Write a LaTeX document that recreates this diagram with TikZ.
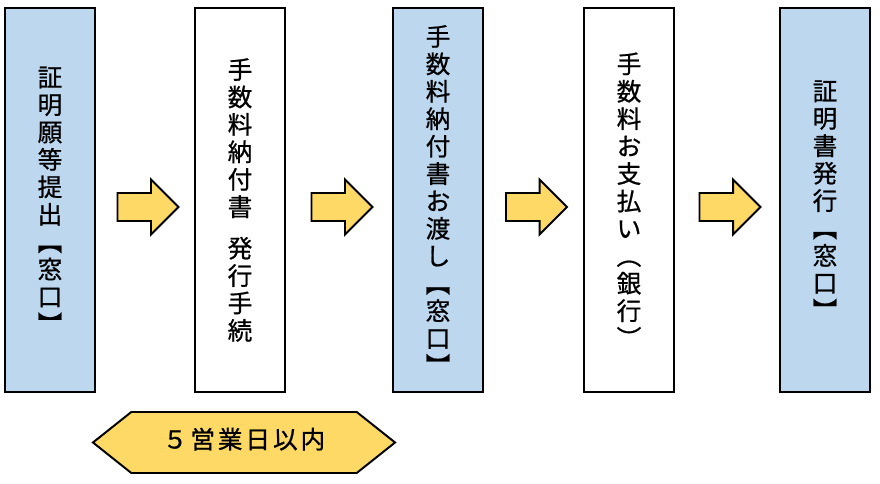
\documentclass[tikz,border=0pt]{standalone}
\usepackage{fontspec}
\usepackage{xcolor}
\usetikzlibrary{positioning,calc,shapes.arrows}
\newfontfamily\jpfont[FakeBold=0.8]{Noto Sans CJK JP}
\definecolor{madoblue}{HTML}{BDD7EE}
\definecolor{flowgold}{HTML}{FFD966}

\begin{document}
\begin{tikzpicture}[
    x=0.025cm, y=-0.025cm,
    stagebox/.style={
        rectangle, draw=black, line width=1.6pt,
        fill=white, minimum width=2.25cm, minimum height=9.6cm,
        align=center, inner sep=0pt,
        font=\jpfont\fontsize{17.5pt}{19.5pt}\selectfont
    },
    % Counter (madoguchi) steps: shaded blue
    counter/.style={
        stagebox, fill=madoblue
    },
    % Block arrow between two stages
    flowarrow/.style={
        single arrow, draw=black, line width=1.4pt, fill=flowgold,
        minimum height=1.525cm, inner xsep=0pt, inner ysep=0.325cm,
        text height=0pt, text depth=0pt,
        single arrow head extend=0.3375cm, single arrow tip angle=90,
        anchor=tail
    },
    spanarrow/.style={
        double arrow, draw=black, line width=1.4pt, fill=flowgold,
        minimum height=7.55cm, inner xsep=0pt, inner ysep=0.4375cm,
        text height=0.45cm, text depth=0.15cm,
        double arrow head extend=0pt, double arrow tip angle=77,
        font=\jpfont\fontsize{17.5pt}{19.5pt}\selectfont\addfontfeature{LetterSpace=12}
    }
]
\useasboundingbox (0,0) rectangle (880,484);

% === Nodes ===
\node[counter]  (SUB)  at (50,200)  {証\\明\\願\\等\\提\\出\\︻\\窓\\口\\︼};
\node[stagebox] (FEE)  at (240,200) {手\\数\\料\\納\\付\\書\\[10pt]発\\行\\手\\続};
\node[counter]  (HAND) at (438,200) {手\\数\\料\\納\\付\\書\\お\\渡\\し\\︻\\窓\\口\\︼};
\node[stagebox] (PAY)  at (629,200) {手\\数\\料\\お\\支\\払\\い\\︵\\銀\\行\\︶};
\node[counter]  (CERT) at (825,200) {証\\明\\書\\発\\行\\︻\\窓\\口\\︼};

% ============================================================
% === Block arrows between the stages
% ============================================================
\node[flowarrow] (SUB_FEE)   at ($(SUB.east)!0.5!(FEE.west)+(-28.5,7)$) {};
\node[flowarrow] (FEE_HAND)  at ($(FEE.east)!0.5!(HAND.west)+(-28.5,7)$) {};
\node[flowarrow] (HAND_PAY)  at ($(HAND.east)!0.5!(PAY.west)+(-28.5,7)$) {};
\node[flowarrow] (PAY_CERT)  at ($(PAY.east)!0.5!(CERT.west)+(-28.5,7)$) {};

% ============================================================
% === Time span under the first stages
% ============================================================
\node[spanarrow] (DAYS) at (244,442.5) {５営業日以内};

\end{tikzpicture}
\end{document}
